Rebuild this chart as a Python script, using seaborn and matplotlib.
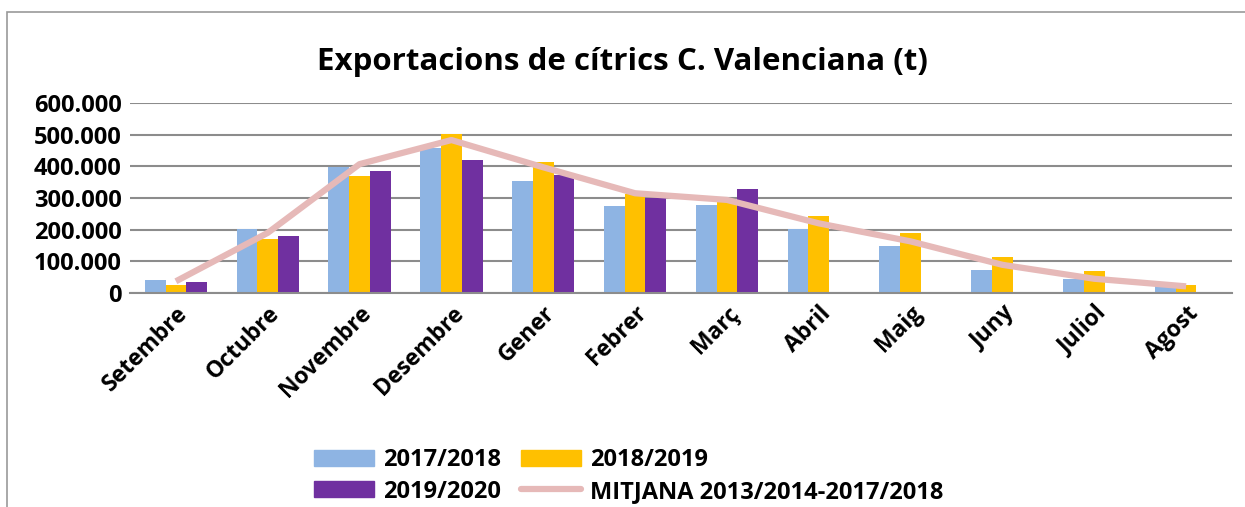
import numpy as np
import pandas as pd
import matplotlib
matplotlib.use("Agg")
import matplotlib.pyplot as plt
import matplotlib.patches as mpatches
from matplotlib.lines import Line2D
from matplotlib.ticker import FuncFormatter
import seaborn as sns

# dades (tones), llegides del gràfic
mesos = ["Setembre", "Octubre", "Novembre", "Desembre", "Gener", "Febrer",
         "Març", "Abril", "Maig", "Juny", "Juliol", "Agost"]
t_2017_2018 = [42000, 203000, 398000, 459000, 355000, 275000,
               278000, 201000, 147000, 73000, 45000, 21000]
t_2018_2019 = [26000, 171000, 369000, 503000, 413000, 313000,
               289000, 243000, 190000, 114000, 70000, 26000]
t_2019_2020 = [36000, 180000, 385000, 420000, 372000, 299000,
               328000, np.nan, np.nan, np.nan, np.nan, np.nan]
mitjana = [37000, 190000, 407000, 483000, 397000, 315000,
           294000, 220000, 163000, 89000, 45000, 21000]

campanyes = ["2017/2018", "2018/2019", "2019/2020"]
colors = ["#8EB4E3", "#FFC000", "#7030A0"]
color_mitjana = "#E6B9B8"
etiqueta_mitjana = "MITJANA 2013/2014-2017/2018"

df = pd.DataFrame({
    "mes": mesos * 3,
    "campanya": np.repeat(campanyes, len(mesos)),
    "tones": t_2017_2018 + t_2018_2019 + t_2019_2020,
})

sns.set_style("white")
plt.rcParams["font.family"] = ["Open Sans", "DejaVu Sans"]
plt.rcParams["text.color"] = "black"
plt.rcParams["xtick.color"] = "black"
plt.rcParams["ytick.color"] = "black"

fig = plt.figure(figsize=(12.45, 5.07), dpi=100)
ax = fig.add_axes([130 / 1245, 1 - 293 / 507, 1102 / 1245, 190 / 507])

sns.barplot(data=df, x="mes", y="tones", hue="campanya", order=mesos,
            hue_order=campanyes, palette=colors, width=0.68, saturation=1,
            linewidth=0, ax=ax, legend=False)
sns.lineplot(x=np.arange(len(mesos)), y=mitjana, color=color_mitjana,
             linewidth=4.5, ax=ax, zorder=5, solid_capstyle="butt")

ax.set_xlim(-0.5, len(mesos) - 0.5)
ax.set_ylim(0, 600000)
ax.set_yticks(np.arange(0, 600001, 100000))
ax.yaxis.set_major_formatter(FuncFormatter(lambda v, p: f"{int(v):,}".replace(",", ".")))
ax.grid(axis="y", color="#8C8C8C", linewidth=1.5)
ax.set_axisbelow(True)
for s in ["top", "right", "left"]:
    ax.spines[s].set_visible(False)
ax.spines["bottom"].set_color("#8C8C8C")
ax.spines["bottom"].set_linewidth(1.5)
ax.set_xlabel("")
ax.set_ylabel("")
ax.tick_params(axis="both", length=0, pad=6)
plt.setp(ax.get_yticklabels(), fontsize=17, fontweight="bold")
plt.setp(ax.get_xticklabels(), fontsize=16.5, fontweight="bold", rotation=45,
         ha="right", rotation_mode="anchor")

fig.text(0.5, 1 - 62 / 507, "Exportacions de cítrics C. Valenciana (t)",
         ha="center", va="center", fontsize=22.5, fontweight="bold")

# ordre per files: 2017, 2018 / 2019, mitjana
handles = [mpatches.Patch(color=colors[0], label=campanyes[0]),
           mpatches.Patch(color=colors[2], label=campanyes[2]),
           mpatches.Patch(color=colors[1], label=campanyes[1]),
           Line2D([0], [0], color=color_mitjana, linewidth=4.5, label=etiqueta_mitjana)]
fig.legend(handles=handles, ncol=2, loc="center left",
           bbox_to_anchor=(314 / 1245, 1 - 476 / 507), frameon=False,
           borderpad=0, borderaxespad=0,
           prop={"size": 17, "weight": "bold"}, handlelength=2.55,
           handleheight=0.64, columnspacing=0.85, labelspacing=0.3,
           handletextpad=0.38)

# marc del gràfic
fig.add_artist(mpatches.Rectangle((7 / 1245, -0.01), 1.0, 1 - 12 / 507 + 0.01,
                                  transform=fig.transFigure, fill=False,
                                  edgecolor="#999999", linewidth=1.2))

fig.savefig("out.png", dpi=100)
